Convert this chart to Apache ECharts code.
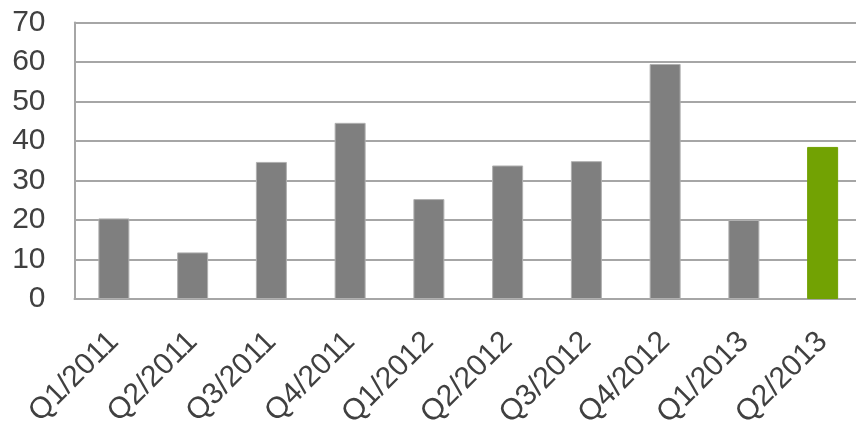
<!DOCTYPE html>
<html>
<head>
<meta charset="utf-8">
<script src="https://cdn.jsdelivr.net/npm/echarts@6/dist/echarts.min.js"></script>
<style>
  html, body { margin: 0; padding: 0; background: #ffffff; overflow: hidden; }
  #chart { width: 862px; height: 426px; }
</style>
</head>
<body>
<div id="chart"></div>
<script>
// Quarterly values
const quarters = ['Q1/2011', 'Q2/2011', 'Q3/2011', 'Q4/2011', 'Q1/2012', 'Q2/2012', 'Q3/2012', 'Q4/2012', 'Q1/2013', 'Q2/2013'];
const values = [20.4, 11.8, 34.7, 44.6, 25.3, 33.8, 34.9, 59.5, 20.0, 38.5];
const yTicks = [0, 10, 20, 30, 40, 50, 60, 70];

const baseColor = '#7f7f7f';
const highlightColor = '#72a203';
const lastIndex = quarters.length - 1;

const chart = echarts.init(document.getElementById('chart'));
chart.setOption({
  backgroundColor: '#ffffff',
  animation: false,
  grid: {
    left: 74.5, right: 0, top: 22.5, bottom: 127,
    containLabel: false,
    outerBoundsMode: 'none'
  },
  xAxis: {
    type: 'category',
    data: quarters,
    axisLine: { show: true, lineStyle: { color: '#a6a6a6', width: 2 } },
    axisTick: { show: false },
    axisLabel: {
      rotate: 45,
      interval: 0,
      margin: 38,
      color: '#404040',
      fontFamily: 'Liberation Sans',
      fontSize: 30
    }
  },
  yAxis: {
    type: 'value',
    min: yTicks[0],
    max: yTicks[yTicks.length - 1],
    interval: 10,
    axisLine: { show: true, lineStyle: { color: '#a6a6a6', width: 2 } },
    axisTick: { show: false },
    splitLine: { show: true, lineStyle: { color: '#a6a6a6', width: 2 } },
    axisLabel: {
      margin: 29,
      color: '#404040',
      fontFamily: 'Liberation Sans',
      fontSize: 30
    }
  },
  series: [{
    type: 'bar',
    barWidth: 31,
    data: values.map((v, i) => ({
      value: v,
      itemStyle: {
        color: i === lastIndex ? highlightColor : baseColor,
        borderColor: i === lastIndex ? highlightColor : '#b0b0b0',
        borderWidth: 1
      }
    }))
  }]
});
</script>
</body>
</html>
